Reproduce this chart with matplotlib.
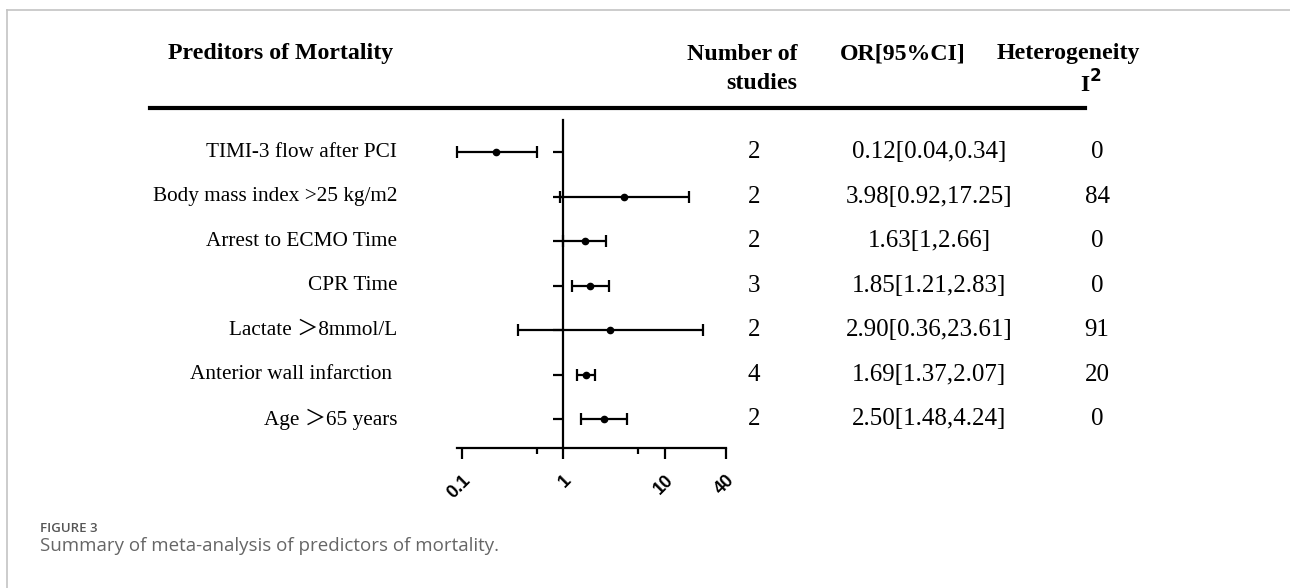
import numpy as np
import matplotlib
matplotlib.use('Agg')
import matplotlib.pyplot as plt
import matplotlib.transforms as mtransforms
from matplotlib.lines import Line2D

# rows, top to bottom
predictors = ['TIMI-3 flow after PCI', 'Body mass index >25 kg/m2', 'Arrest to ECMO Time',
              'CPR Time', 'Lactate \uff1e8mmol/L', 'Anterior wall infarction ', 'Age \uff1e65 years']
n_studies = ['2', '2', '2', '3', '2', '4', '2']
or_text = ['0.12[0.04,0.34]', '3.98[0.92,17.25]', '1.63[1,2.66]', '1.85[1.21,2.83]',
           '2.90[0.36,23.61]', '1.69[1.37,2.07]', '2.50[1.48,4.24]']
i2_text = ['0', '84', '0', '0', '91', '20', '0']

# plotted estimates as drawn in the figure
or_mid = [0.22, 3.98, 1.63, 1.85, 2.90, 1.69, 2.50]
or_lo = [0.09, 0.92, 1.00, 1.21, 0.36, 1.37, 1.48]
or_hi = [0.55, 17.25, 2.66, 2.83, 23.61, 2.07, 4.24]

xticks = [0.1, 1, 10, 40]
xtick_labels = ['0.1', '1', '10', '40']
xminor = [0.55, 5.5]

W, H = 1290, 588
fig = plt.figure(figsize=(W / 100, H / 100), dpi=100, facecolor='white')

def fx(px):
    return px / W

def fy(py):
    return 1 - py / H

serif = ['Liberation Serif', 'Noto Sans CJK SC']

ax = fig.add_axes([fx(457), fy(448), fx(726) - fx(457), fy(120) - fy(448)])
ax.set_xscale('log')
ax.set_xlim(0.09, 40)
ax.set_ylim(0.35, 7.72)
ypos = np.arange(len(predictors), 0, -1)

mid = np.array(or_mid)
err = [mid - np.array(or_lo), np.array(or_hi) - mid]
ax.errorbar(mid, ypos, xerr=err, fmt='o', color='black', ms=4.5, elinewidth=1.6,
            capsize=4, capthick=1.6, clip_on=False)

for s in ['top', 'right']:
    ax.spines[s].set_visible(False)
ax.spines['left'].set_position(('data', 1))
ax.spines['left'].set_linewidth(1.6)
ax.spines['bottom'].set_linewidth(1.6)

ax.set_yticks(ypos)
ax.set_yticklabels([])
ax.tick_params(axis='y', length=7, width=1.6, direction='out')

ax.set_xticks(xticks)
ax.set_xticks(xminor, minor=True)
ax.xaxis.set_minor_formatter(matplotlib.ticker.NullFormatter())
ax.set_xticklabels(xtick_labels, rotation=45, ha='right', rotation_mode='anchor',
                   fontfamily='Liberation Sans', fontweight='bold', fontsize=13)
ax.tick_params(axis='x', which='major', length=8, width=1.6, pad=9)
ax.tick_params(axis='x', which='minor', length=4, width=1.6)

# row texts
trans = mtransforms.blended_transform_factory(fig.transFigure, ax.transData)
for i, y in enumerate(ypos):
    fig.text(fx(397), y, predictors[i], transform=trans, ha='right', va='center',
             family=serif, fontsize=15.3)
    fig.text(fx(754), y, n_studies[i], transform=trans, ha='center', va='center',
             family=serif, fontsize=18)
    fig.text(fx(929), y, or_text[i], transform=trans, ha='center', va='center',
             family=serif, fontsize=18)
    fig.text(fx(1097), y, i2_text[i], transform=trans, ha='center', va='center',
             family=serif, fontsize=18)

# header
hdr = dict(family=serif, fontweight='bold', fontsize=17.2, va='center')
fig.text(fx(281), fy(54), 'Preditors of Mortality', ha='center', **hdr)
fig.text(fx(797), fy(54), 'Number of', ha='right', **hdr)
fig.text(fx(797), fy(84), 'studies', ha='right', **hdr)
fig.text(fx(903), fy(54), 'OR[95%CI]', ha='center', **hdr)
fig.text(fx(1068), fy(54), 'Heterogeneity', ha='center', **hdr)
fig.text(fx(1091), fy(84), r'I$^\mathbf{2}$', ha='center', **hdr)

fig.add_artist(Line2D([fx(150), fx(1085)], [fy(108), fy(108)], color='black', lw=3))

# frame
fig.add_artist(Line2D([fx(7), 1], [fy(10), fy(10)], color='#c4c4c4', lw=1.2))
fig.add_artist(Line2D([fx(7), fx(7)], [fy(10), 0], color='#c4c4c4', lw=1.2))

# caption
fig.text(fx(40), fy(528), 'FIGURE 3', family='Open Sans', fontsize=9.5, color='#555555',
         fontweight='semibold', va='center', ha='left')
fig.text(fx(40), fy(546), 'Summary of meta-analysis of predictors of mortality.',
         family='Open Sans', fontsize=13.5, color='#666666', va='center', ha='left')

fig.savefig('out.png', dpi=100, facecolor='white')
